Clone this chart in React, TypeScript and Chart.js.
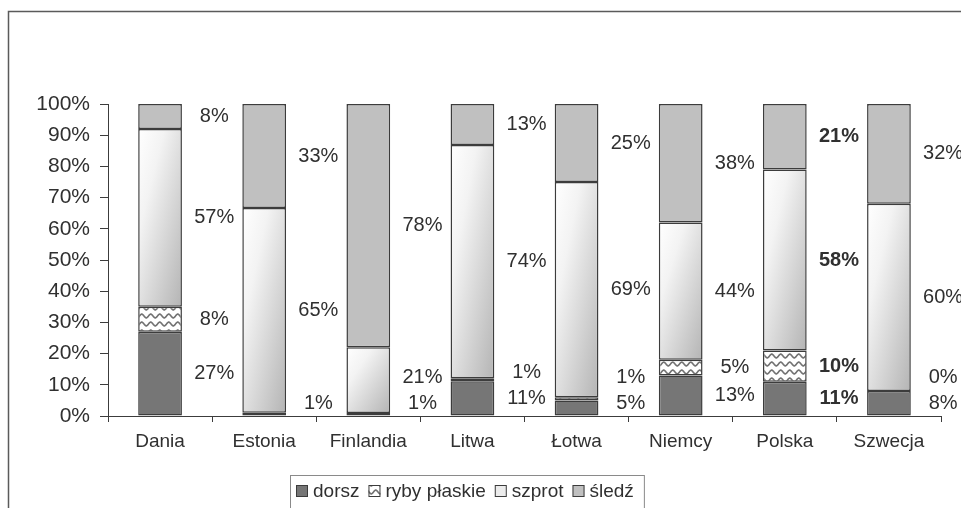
import React, { useEffect, useRef } from 'react';
import { Chart, registerables } from 'chart.js';

Chart.register(...registerables);

// ---- data ----
const categories = ['Dania', 'Estonia', 'Finlandia', 'Litwa', 'Łotwa', 'Niemcy', 'Polska', 'Szwecja'];
const seriesNames = ['dorsz', 'ryby płaskie', 'szprot', 'śledź'];
const dorsz: (number | null)[] = [27, 1, 1, 11, 5, 13, 11, 8];
const rybyPlaskie: (number | null)[] = [8, null, null, 1, 1, 5, 10, 0];
const szprot: (number | null)[] = [57, 65, 21, 74, 69, 44, 58, 60];
const sledz: (number | null)[] = [8, 33, 78, 13, 25, 38, 21, 32];
const boldCategories = ['Polska'];
const yTickValues = [0, 10, 20, 30, 40, 50, 60, 70, 80, 90, 100];

// ---- styling ----
const W = 961;
const H = 508;
const FONT = '"Liberation Sans", Arial, Helvetica, sans-serif';
const TEXT = '#303030';
const EDGE = '#3c3c3c';
const BAR_FRACTION = 0.42;

const raw = [dorsz, rybyPlaskie, szprot, sledz];
// 100% stacked: normalise each column to its total (as a 100% stacked column chart does)
const totals = categories.map((_, i) => raw.reduce((s, arr) => s + (arr[i] ?? 0), 0));
const norm = raw.map((arr) => arr.map((v, i) => (v == null ? null : (v / totals[i]) * 100)));

function makeWavePattern(): CanvasPattern | string {
  const c = document.createElement('canvas');
  c.width = 9;
  c.height = 8;
  const g = c.getContext('2d');
  if (!g) return '#dddddd';
  g.fillStyle = '#ffffff';
  g.fillRect(0, 0, 9, 8);
  g.strokeStyle = '#737373';
  g.lineWidth = 1.6;
  g.beginPath();
  for (let x = -1; x <= 10; x += 0.5) {
    const y = 4 + 1.9 * Math.sin((x / 9) * Math.PI * 2);
    if (x === -1) g.moveTo(x, y);
    else g.lineTo(x, y);
  }
  g.stroke();
  const p = g.createPattern(c, 'repeat');
  return p ?? '#dddddd';
}

export default function App() {
  const ref = useRef<HTMLCanvasElement | null>(null);

  useEffect(() => {
    const canvas = ref.current;
    if (!canvas) return;
    const wave = makeWavePattern();

    const barGeom = (chart: any, i: number, d: number) => {
      const xs = chart.scales.x;
      const ys = chart.scales.y;
      let base = 0;
      for (let k = 0; k < d; k++) base += norm[k][i] ?? 0;
      const top = base + (norm[d][i] ?? 0);
      const cx = xs.getPixelForValue(i);
      const w = (xs.width / categories.length) * BAR_FRACTION;
      return { cx, w, yTop: ys.getPixelForValue(top), yBase: ys.getPixelForValue(base), mid: ys.getPixelForValue((base + top) / 2) };
    };

    const szprotFill = (ctx: any) => {
      const chart = ctx.chart;
      if (ctx.dataIndex == null || !chart.chartArea || !chart.scales.x || !chart.scales.y) return '#eeeeee';
      const i = ctx.dataIndex;
      const g = barGeom(chart, i, 2);
      const h = Math.max(1, g.yBase - g.yTop);
      const left = g.cx - g.w / 2;
      const dx = 1 / g.w;
      const dy = 1 / h;
      const k = 2 / (dx * dx + dy * dy);
      const grad = chart.ctx.createLinearGradient(left, g.yTop, left + dx * k, g.yTop + dy * k);
      grad.addColorStop(0, '#ffffff');
      grad.addColorStop(0.3, '#f3f3f3');
      grad.addColorStop(1, '#b4b4b4');
      return grad;
    };

    const fills: any[] = ['#767676', wave, szprotFill, '#c0c0c0'];
    const legendFills: any[] = ['#767676', wave, '#ececec', '#c0c0c0'];

    const framePlugin = {
      id: 'frame',
      beforeDraw(chart: any) {
        const c = chart.ctx;
        c.save();
        c.fillStyle = '#ffffff';
        c.fillRect(0, 0, W, H);
        c.restore();
      },
      afterDraw(chart: any) {
        const c = chart.ctx;
        c.save();
        // outer frame (left + top visible)
        c.strokeStyle = '#5a5a5a';
        c.lineWidth = 1.5;
        c.beginPath();
        c.moveTo(8.5, H + 2);
        c.lineTo(8.5, 11.5);
        c.lineTo(W + 2, 11.5);
        c.stroke();

        // legend
        c.font = `19px ${FONT}`;
        c.textBaseline = 'middle';
        c.textAlign = 'left';
        let x = 296;
        const yMid = 491;
        const box = 12;
        seriesNames.forEach((name, d) => {
          c.fillStyle = legendFills[d];
          c.fillRect(x, yMid - box / 2, box, box);
          c.strokeStyle = EDGE;
          c.lineWidth = 1;
          c.strokeRect(x + 0.5, yMid - box / 2 + 0.5, box - 1, box - 1);
          x += box + 5;
          c.fillStyle = TEXT;
          c.fillText(name, x, yMid + 1);
          x += c.measureText(name).width + 9;
        });
        c.strokeStyle = '#8a8a8a';
        c.lineWidth = 1;
        c.strokeRect(290.5, 475.5, x - 290 + 1, 60);
        c.restore();
      },
    };

    const labelPlugin = {
      id: 'segLabels',
      afterDatasetsDraw(chart: any) {
        const c = chart.ctx;
        const ys = chart.scales.y;
        const xs = chart.scales.x;
        const catW = xs.width / categories.length;
        const floor = ys.getPixelForValue(0) - 13;
        c.save();
        c.fillStyle = TEXT;
        c.textAlign = 'center';
        c.textBaseline = 'middle';
        categories.forEach((cat, i) => {
          const bold = boldCategories.includes(cat);
          c.font = `${bold ? 'bold ' : ''}20px ${FONT}`;
          let prev = Infinity;
          for (let d = 0; d < raw.length; d++) {
            const v = raw[d][i];
            if (v == null) continue;
            const g = barGeom(chart, i, d);
            let y = Math.min(g.mid, floor);
            if (y > prev - 26) y = prev - 26;
            prev = y;
            c.fillText(`${v}%`, g.cx + catW * 0.52, y);
          }
        });
        c.restore();
      },
    };

    const chart = new Chart(canvas, {
      type: 'bar',
      data: {
        labels: categories,
        datasets: seriesNames.map((name, d) => ({
          label: name,
          data: norm[d],
          backgroundColor: fills[d],
          borderColor: EDGE,
          borderWidth: 1.5,
          borderSkipped: false,
          barPercentage: BAR_FRACTION,
          categoryPercentage: 1,
        })),
      },
      options: {
        animation: false,
        responsive: false,
        maintainAspectRatio: false,
        devicePixelRatio: 1,
        layout: { padding: { left: 0, right: 20, top: 104, bottom: 52 } },
        plugins: {
          legend: { display: false },
          tooltip: { enabled: false },
          title: { display: false },
        },
        scales: {
          x: {
            stacked: true,
            grid: { display: true, drawOnChartArea: false, drawTicks: true, tickLength: 6, color: EDGE, offset: true },
            border: { display: true, color: EDGE, width: 1 },
            ticks: { color: TEXT, font: { family: FONT, size: 19 }, padding: 8, maxRotation: 0, autoSkip: false },
            afterFit: (s: any) => {
              s.height = 40;
            },
          },
          y: {
            stacked: true,
            min: 0,
            max: 100,
            afterBuildTicks: (s: any) => {
              s.ticks = yTickValues.map((v) => ({ value: v }));
            },
            grid: { display: true, drawOnChartArea: false, drawTicks: true, tickLength: 8, color: EDGE },
            border: { display: true, color: EDGE, width: 1 },
            ticks: {
              color: TEXT,
              font: { family: FONT, size: 21 },
              padding: 10,
              callback: (v: any) => `${v}%`,
            },
            afterFit: (s: any) => {
              s.width = 108;
            },
          },
        },
      },
      plugins: [framePlugin, labelPlugin],
    });

    return () => chart.destroy();
  }, []);

  return (
    <div style={{ position: 'absolute', left: 0, top: 0, width: W, height: H, background: '#ffffff' }}>
      <canvas ref={ref} width={W} height={H} style={{ display: 'block', width: W, height: H }} />
    </div>
  );
}
